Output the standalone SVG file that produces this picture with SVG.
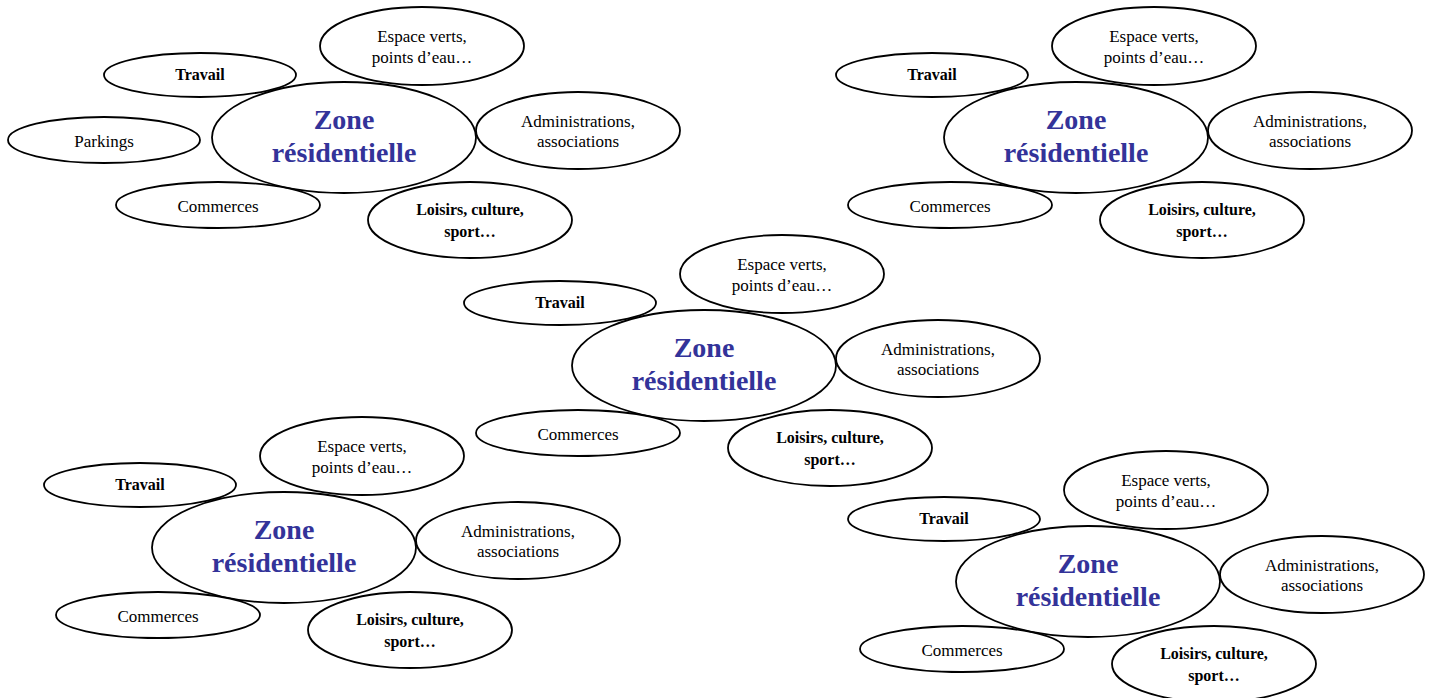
<svg xmlns="http://www.w3.org/2000/svg" width="1431" height="698" viewBox="0 0 1431 698">
<style>
.e{fill:none;stroke:#000;stroke-width:1.8}
.t{font-family:"Liberation Serif","Times New Roman",serif;font-size:17px;fill:#000;text-anchor:middle}
.b{font-family:"Liberation Serif","Times New Roman",serif;font-size:16px;font-weight:bold;fill:#000;text-anchor:middle}
.z{font-family:"Liberation Serif","Times New Roman",serif;font-size:28px;font-weight:bold;fill:#333399;text-anchor:middle}
</style>
<rect width="1431" height="698" fill="#fff"/>
<defs>
<g id="cluster">
  <g id="c-travail"><ellipse class="e" cx="200" cy="75" rx="96" ry="22"/><text class="b" x="200" y="80">Travail</text></g>
  <g id="c-espace"><ellipse class="e" cx="422" cy="46" rx="102" ry="39"/><text class="t" x="422" y="42">Espace verts,</text><text class="t" x="422" y="63">points d’eau…</text></g>
  <g id="c-zone"><ellipse class="e" cx="344" cy="137.5" rx="132" ry="55.5"/><text class="z" x="344" y="129">Zone</text><text class="z" x="344" y="162">résidentielle</text></g>
  <g id="c-admin"><ellipse class="e" cx="578" cy="130.5" rx="102" ry="38.5"/><text class="t" x="578" y="127">Administrations,</text><text class="t" x="578" y="147">associations</text></g>
  <g id="c-commerces"><ellipse class="e" cx="218" cy="205" rx="102" ry="23"/><text class="t" x="218" y="212">Commerces</text></g>
  <g id="c-loisirs"><ellipse class="e" cx="470" cy="220" rx="102" ry="38"/><text class="b" x="470" y="215">Loisirs, culture,</text><text class="b" x="470" y="237">sport…</text></g>
</g>
</defs>
<g id="connectors"/>
<g id="cluster-top-left">
  <use href="#cluster"/>
  <g id="tl-parkings"><ellipse class="e" cx="104" cy="140" rx="96" ry="23"/><text class="t" x="104" y="147">Parkings</text></g>
</g>
<g id="cluster-top-right" transform="translate(732,0)"><use href="#cluster"/></g>
<g id="cluster-center" transform="translate(360,228)"><use href="#cluster"/></g>
<g id="cluster-bottom-left" transform="translate(-60,410)"><use href="#cluster"/></g>
<g id="cluster-bottom-right" transform="translate(744,444)"><use href="#cluster"/></g>
</svg>
